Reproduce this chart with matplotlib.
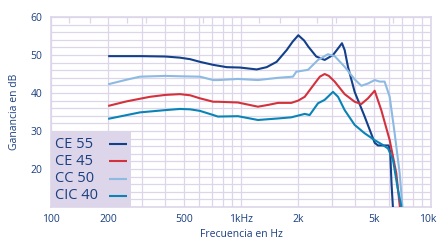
import matplotlib
matplotlib.use("Agg")
import matplotlib.pyplot as plt
import matplotlib.transforms as mtransforms
from matplotlib.patches import Rectangle
from matplotlib.ticker import FixedLocator, NullFormatter

plt.rcParams['font.family'] = ['Open Sans', 'DejaVu Sans']

# frequency response curves (Hz, dB)
ce55_f = [200, 300, 400, 477, 540, 608, 715, 841, 989, 1210, 1365, 1540, 1740, 1870, 2003,
          2150, 2261, 2490, 2756, 3050, 3250, 3400, 3513, 3656, 3965, 4476, 5054, 5260, 5987,
          6100, 6200, 6320]
ce55_g = [49.7, 49.7, 49.6, 49.3, 48.9, 48.2, 47.4, 46.8, 46.7, 46.2, 46.8, 48.2, 51.3, 53.5, 55.2,
          53.8, 52.2, 49.6, 48.7, 50.0, 51.8, 53.1, 51.3, 46.9, 40.3, 33.8, 26.9, 26.2, 26.2,
          24.5, 16.0, 9.0]

ce45_f = [200, 250, 332, 400, 477, 540, 608, 715, 756, 964, 1228, 1400, 1566, 1840, 2000, 2165,
          2442, 2600, 2757, 2900, 3112, 3513, 3965, 4299, 4660, 5054, 5475, 6062, 6567, 6841, 6900]
ce45_g = [36.6, 37.8, 39.0, 39.5, 39.7, 39.4, 38.6, 37.7, 37.7, 37.5, 36.4, 36.9, 37.4, 37.4, 38.0,
          39.0, 42.5, 44.3, 45.0, 44.5, 43.0, 39.7, 37.7, 37.1, 38.6, 40.6, 35.5, 27.6, 18.9, 10.5, 9.0]

cc50_f = [200, 250, 294, 400, 477, 608, 715, 756, 964, 1228, 1566, 1878, 1955, 2253, 2543, 2870,
          3112, 3513, 3965, 4299, 4660, 5054, 5370, 5700, 6062, 6438, 6841, 7060, 7100]
cc50_g = [42.3, 43.5, 44.3, 44.5, 44.4, 44.3, 43.4, 43.4, 43.7, 43.4, 44.0, 44.3, 45.6, 46.1, 48.7,
          50.2, 49.7, 46.9, 43.6, 41.9, 42.5, 43.4, 43.0, 43.0, 39.0, 29.4, 18.9, 10.5, 9.0]

cic40_f = [200, 294, 400, 477, 540, 608, 715, 756, 964, 1228, 1566, 1840, 2165, 2298, 2543, 2757,
           3050, 3242, 3513, 3965, 4476, 5054, 5590, 5940, 6310, 6700, 6960, 7000]
cic40_g = [33.2, 34.9, 35.5, 35.8, 35.7, 35.3, 34.2, 33.8, 33.9, 32.9, 33.3, 33.6, 34.5, 34.2, 37.3,
           38.2, 40.3, 39.0, 35.5, 31.6, 29.4, 27.6, 26.3, 25.4, 22.4, 14.5, 10.5, 9.0]

labels = ["CE 55", "CE 45", "CC 50", "CIC 40"]
colors = ["#12408a", "#d3313c", "#8dbae2", "#0a83b6"]

x_ticks = [100, 200, 500, 1000, 2000, 5000, 10000]
x_ticklabels = ["100", "200", "500", "1kHz", "2k", "5k", "10k"]
y_ticks = [20, 30, 40, 50, 60]
grid_f = list(range(100, 1000, 100)) + list(range(1000, 10001, 1000))
third_oct = [125, 160, 250, 315, 630, 1250, 1600, 2500, 3150, 6300]

navy = "#1b3f7f"
lav = "#ddd5e9"

fig = plt.figure(figsize=(4.38, 2.41), dpi=100)
ax = fig.add_axes([0.1164, 0.141, 0.8676, 0.7885])

series = [(ce55_f, ce55_g), (ce45_f, ce45_g), (cc50_f, cc50_g), (cic40_f, cic40_g)]
for (f, g), c in zip(series, colors):
    ax.plot(f, g, color=c, lw=1.5, solid_capstyle="butt", zorder=3)

ax.set_xscale("log")
ax.set_xlim(100, 10000)
ax.set_ylim(10, 60)

ax.xaxis.set_major_locator(FixedLocator(x_ticks))
ax.set_xticklabels(x_ticklabels)
ax.xaxis.set_minor_locator(FixedLocator(grid_f))
ax.xaxis.set_minor_formatter(NullFormatter())
ax.set_yticks(y_ticks)
ax.yaxis.set_minor_locator(FixedLocator(list(range(10, 61, 2))))

ax.grid(True, which="both", color=lav, lw=0.9, zorder=0)
ax.set_axisbelow(True)
ax.tick_params(which="both", length=0, colors=navy, labelsize=7.5)
ax.tick_params(axis="x", pad=5)
ax.tick_params(axis="y", pad=6)
for s in ax.spines.values():
    s.set_color(lav)
    s.set_linewidth(1.2)

# nudge "10k" a little so it stays inside the picture
last = ax.get_xticklabels()[-1]
last.set_transform(last.get_transform() + mtransforms.ScaledTranslation(-3 / 100, 0, fig.dpi_scale_trans))

# short third-octave marks along the top
top = ax.secondary_xaxis("top")
top.set_xticks(third_oct)
top.set_xticklabels([])
top.xaxis.set_minor_locator(FixedLocator([]))
top.tick_params(direction="in", length=4, width=0.9, color=lav)
top.spines["top"].set_visible(False)

ax.set_xlabel("Frecuencia en Hz", color=navy, fontsize=7.5, labelpad=3)
ax.set_ylabel("Ganancia en dB", color=navy, fontsize=7.5, labelpad=8)

# legend box: text on the left, line sample on the right
ax.add_patch(Rectangle((0, 0), 0.2105, 0.396, transform=ax.transAxes,
                       facecolor=lav, edgecolor="none", zorder=4, clip_on=False))
leg_y = [0.33, 0.24, 0.148, 0.058]
for lab, c, yy in zip(labels, colors, leg_y):
    ax.text(0.011, yy, lab, transform=ax.transAxes, color=navy, fontsize=10.5,
            va="center", ha="left", zorder=5)
    ax.plot([0.153, 0.2], [yy, yy], transform=ax.transAxes, color=c, lw=1.5,
            solid_capstyle="butt", zorder=5)

fig.savefig("out.png", dpi=100)
